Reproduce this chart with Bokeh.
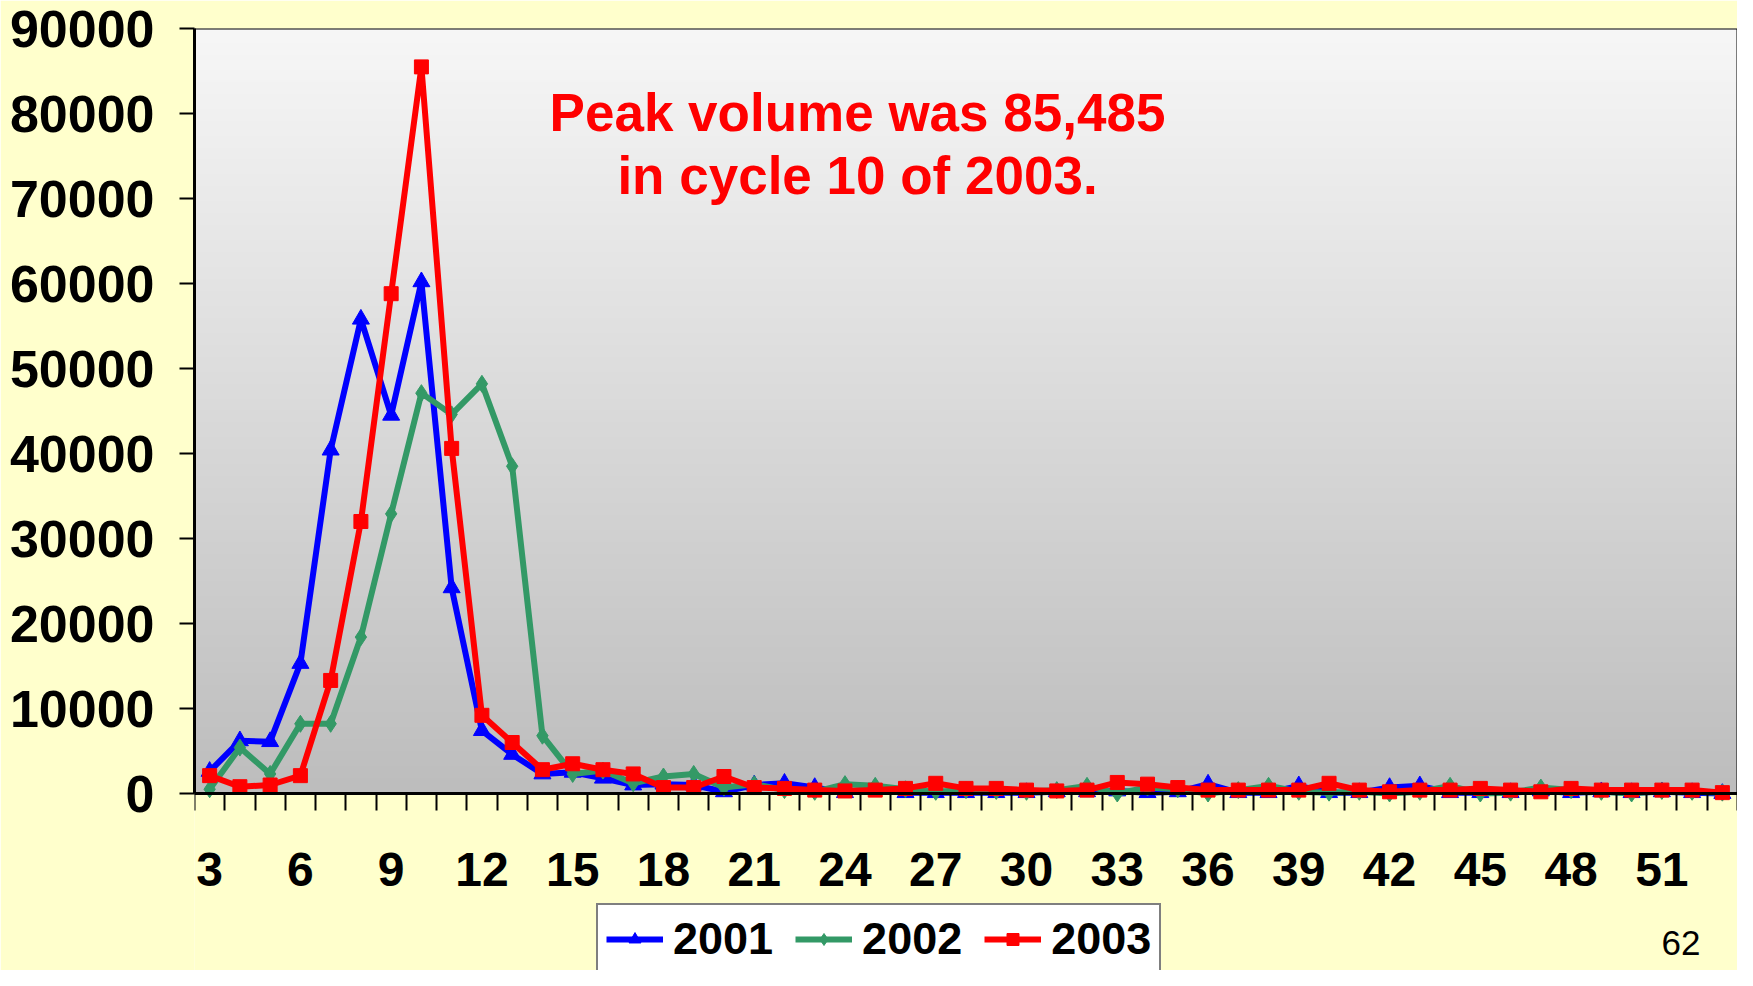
import numpy as np
from bokeh.plotting import figure
from bokeh.models import Range1d, FixedTicker, Legend, LegendItem, Label
from bokeh.embed import file_html
from bokeh.resources import INLINE

# ---------------- data ----------------
cycles = list(range(3, 54))

vol_2001 = [2600, 6200, 6100, 15300, 40400, 55800, 44500, 60200, 24200, 7400,
            4600, 2300, 2500, 1800, 1000, 1100, 1000, 200, 1000, 1200,
            700, 100, 600, 100, 100, 100, 100, 100, 200, 200,
            300, 100, 200, 1100, 100, 100, 900, 100, 100, 700,
            900, 100, 100, 100, 300, 100, 200, 100, 200, 100,
            0]

vol_2002 = [500, 5400, 2300, 8200, 8200, 18400, 32900, 47100, 44600, 48200,
            38500, 6800, 2300, 2700, 1200, 2000, 2300, 700, 1100, 400,
            200, 1100, 900, 500, 200, 400, 300, 200, 400, 900,
            0, 700, 500, 0, 400, 900, 200, 100, 200, 0,
            200, 900, 0, 100, 700, 400, 200, 0, 300, 200,
            100]

vol_2003 = [2100, 800, 1000, 2100, 13300, 32000, 58800, 85485, 40600, 9200,
            6000, 2800, 3500, 2800, 2300, 700, 700, 2000, 700, 600,
            400, 300, 400, 600, 1200, 600, 600, 400, 300, 400,
            1300, 1100, 700, 400, 400, 400, 400, 1200, 400, 200,
            400, 400, 600, 400, 200, 600, 400, 400, 400, 400,
            100]

series_names = ["2001", "2002", "2003"]
x_tick_values = [3, 6, 9, 12, 15, 18, 21, 24, 27, 30, 33, 36, 39, 42, 45, 48, 51]
x_tick_labels = ["3", "6", "9", "12", "15", "18", "21", "24", "27", "30",
                 "33", "36", "39", "42", "45", "48", "51"]
y_ticks = [0, 10000, 20000, 30000, 40000, 50000, 60000, 70000, 80000, 90000]
y_tick_labels = ["0", "10000", "20000", "30000", "40000", "50000", "60000",
                 "70000", "80000", "90000"]
note_lines = ["Peak volume was 85,485", "in cycle 10 of 2003."]
slide_number = "62"

# ---------------- layout / styles ----------------
FONT = "Liberation Sans"
colors = ["#0000FF", "#339966", "#FF0000"]
markers = ["triangle", "diamond", "square"]
marker_sizes = [17, 17, 14]

W, H = 1737, 970
LEFT, TOP = 194, 28
AXIS_Y_PX = 793                      # pixel row of the value 0
y_max = y_ticks[-1]
px_per_unit = (AXIS_Y_PX - TOP) / y_max
y_min = -(H - AXIS_Y_PX) / px_per_unit   # frame reaches the canvas bottom
x_lo, x_hi = cycles[0] - 0.5, cycles[-1] + 0.5

p = figure(width=W, height=H, output_backend="svg", toolbar_location=None,
           x_range=Range1d(x_lo, x_hi), y_range=Range1d(y_min, y_max),
           min_border_left=LEFT, min_border_right=0, min_border_top=TOP,
           min_border_bottom=0)
p.background_fill_color = "#FFFFCC"
p.border_fill_color = "#FFFFCC"
p.outline_line_color = None
p.grid.visible = False

# gradient plot-area background (decoration)
n = 256
t = np.linspace(0.0, 1.0, n)
top_c = np.array([247, 247, 247], dtype=float)
bot_c = np.array([189, 189, 189], dtype=float)
rgb = bot_c + (top_c - bot_c) * t[:, None]
img = np.zeros((n, 1), dtype=np.uint32)
view = img.view(dtype=np.uint8).reshape((n, 1, 4))
view[:, 0, 0:3] = rgb.astype(np.uint8)
view[:, 0, 3] = 255
p.image_rgba(image=[img], x=x_lo, y=0, dw=x_hi - x_lo, dh=y_max)
# plot-area border
p.quad(left=[x_lo], right=[x_hi], bottom=[0], top=[y_max], fill_color=None,
       line_color="black", line_width=2)

# x axis fixed at value 0
p.xaxis.fixed_location = 0
p.xaxis.ticker = FixedTicker(ticks=x_tick_values,
                             minor_ticks=[c - 0.5 for c in cycles] + [x_hi])
p.xaxis.major_label_overrides = {v: s for v, s in zip(x_tick_values, x_tick_labels)}
p.xaxis.major_tick_out = 0
p.xaxis.major_tick_in = 0
p.xaxis.minor_tick_out = 17
p.xaxis.minor_tick_in = 0
p.xaxis.minor_tick_line_color = "black"
p.xaxis.minor_tick_line_width = 2
p.xaxis.axis_line_width = 3
p.xaxis.axis_line_color = "black"
p.xaxis.major_label_standoff = 42
p.xaxis.major_label_text_font = FONT
p.xaxis.major_label_text_font_style = "bold"
p.xaxis.major_label_text_font_size = "48px"
p.xaxis.major_label_text_color = "black"

p.yaxis.bounds = (0, y_max)
p.yaxis.ticker = FixedTicker(ticks=y_ticks, minor_ticks=[])
p.yaxis.major_label_overrides = {v: s for v, s in zip(y_ticks, y_tick_labels)}
p.yaxis.major_tick_out = 15
p.yaxis.major_tick_in = 0
p.yaxis.major_tick_line_width = 2
p.yaxis.major_tick_line_color = "black"
p.yaxis.minor_tick_out = 0
p.yaxis.minor_tick_in = 0
p.yaxis.axis_line_width = 3
p.yaxis.axis_line_color = "black"
p.yaxis.major_label_standoff = 25
p.yaxis.major_label_text_font = FONT
p.yaxis.major_label_text_font_style = "bold"
p.yaxis.major_label_text_font_size = "52px"
p.yaxis.major_label_text_color = "black"

# series
items = []
for name, vals, col, mk, ms in zip(series_names, [vol_2001, vol_2002, vol_2003],
                                   colors, markers, marker_sizes):
    lr = p.line(cycles, vals, line_color=col, line_width=6, line_join="round")
    sr = p.scatter(cycles, vals, marker=mk, size=ms, fill_color=col, line_color=col)
    items.append(LegendItem(label=name, renderers=[lr, sr]))

LEG_TOP, LEG_H = 905, 70
legend = Legend(items=items, orientation="horizontal",
                location=(402, H - (LEG_TOP + LEG_H)),
                label_text_font=FONT, label_text_font_style="bold",
                label_text_font_size="45px", label_text_color="black",
                glyph_width=57, glyph_height=30, label_standoff=10, spacing=22,
                padding=8, margin=0, border_line_color="black",
                border_line_width=2, background_fill_color="white",
                background_fill_alpha=1.0)
p.add_layout(legend, "center")

# annotation (screen units measured from the frame's bottom = canvas bottom)
for txt, cy in zip(note_lines, [112, 175]):
    p.add_layout(Label(x=663, y=H - cy, x_units="screen", y_units="screen", text=txt,
                       text_align="center", text_baseline="middle",
                       text_font=FONT, text_font_style="bold",
                       text_font_size="53px", text_color="#FF0000"))

p.add_layout(Label(x=1467, y=H - 930, x_units="screen", y_units="screen",
                   text=slide_number, text_align="left", text_baseline="top",
                   text_font=FONT, text_font_size="35px", text_color="black"))

open("out.html", "w").write(file_html(p, INLINE))
